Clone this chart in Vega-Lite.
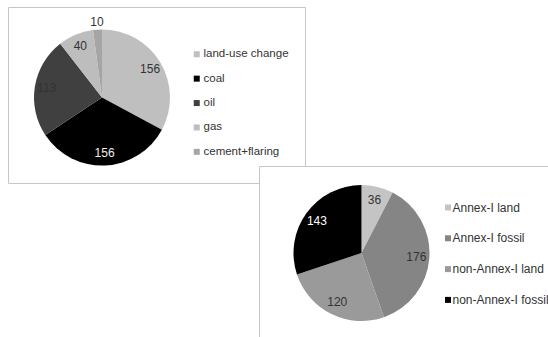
{
  "$schema": "https://vega.github.io/schema/vega-lite/v6.json",
  "padding": {"left": 7, "top": 6, "right": 0, "bottom": 0},
  "config": {
    "font": "Liberation Sans",
    "legend": {
      "orient": "none",
      "title": null,
      "symbolType": "square",
      "symbolSize": 36,
      "symbolStrokeWidth": 0,
      "labelColor": "#333333",
      "padding": 0
    }
  },
  "resolve": {"scale": {"color": "independent"}, "legend": {"color": "independent"}},
  "columns": 1,
  "align": "none",
  "spacing": {"row": -19, "column": 0},
  "concat": [
    {
      "width": 297,
      "height": 176,
      "view": {"stroke": "#c6c6c6", "fill": "white"},
      "data": {
        "values": [
          {"source": "land-use change", "value": 156, "k": 1},
          {"source": "coal", "value": 156, "k": 2},
          {"source": "oil", "value": 113, "k": 3},
          {"source": "gas", "value": 40, "k": 4},
          {"source": "cement+flaring", "value": 10, "k": 5}
        ]
      },
      "encoding": {
        "theta": {"field": "value", "type": "quantitative", "stack": true},
        "order": {"field": "k", "type": "quantitative"}
      },
      "layer": [
        {
          "mark": {"type": "arc", "x": 94, "y": 90.5, "outerRadius": 68},
          "encoding": {
            "color": {
              "field": "source",
              "type": "nominal",
              "scale": {
                "domain": ["land-use change", "coal", "oil", "gas", "cement+flaring"],
                "range": ["#bfbfbf", "#000000", "#404040", "#bdbdbd", "#a5a5a5"]
              },
              "legend": {"legendX": 183, "legendY": 41.5, "labelFontSize": 11.5, "rowPadding": 11.4, "labelOffset": 1}
            }
          }
        },
        {
          "mark": {"type": "text", "x": 94, "y": 90.5, "radius": 56, "fontSize": 12},
          "encoding": {
            "text": {"condition": {"test": "datum.value >= 20", "field": "value", "type": "quantitative"}, "value": ""},
            "color": {"condition": {"test": "datum.source === 'coal'", "value": "#eeeeee"}, "value": "#333333"}
          }
        },
        {
          "mark": {"type": "text", "x": 94, "y": 90.5, "radius": 76, "fontSize": 12},
          "encoding": {
            "text": {"condition": {"test": "datum.value < 20", "field": "value", "type": "quantitative"}, "value": ""},
            "color": {"value": "#333333"}
          }
        }
      ]
    },
    {
      "spacing": 0,
      "resolve": {"scale": {"color": "independent"}, "legend": {"color": "independent"}},
      "hconcat": [
        {
          "width": 250,
          "height": 1,
          "view": {"stroke": null, "fill": null},
          "data": {"values": []},
          "mark": "point",
          "encoding": {}
        },
        {
          "width": 291,
          "height": 171,
          "view": {"stroke": "#c6c6c6", "fill": "white"},
          "data": {
            "values": [
              {"source": "Annex-I land", "value": 36, "k": 1},
              {"source": "Annex-I fossil", "value": 176, "k": 2},
              {"source": "non-Annex-I land", "value": 120, "k": 3},
              {"source": "non-Annex-I fossil", "value": 143, "k": 4}
            ]
          },
          "encoding": {
            "theta": {"field": "value", "type": "quantitative", "stack": true},
            "order": {"field": "k", "type": "quantitative"}
          },
          "layer": [
            {
              "mark": {"type": "arc", "x": 102.5, "y": 87, "outerRadius": 68},
              "encoding": {
                "color": {
                  "field": "source",
                  "type": "nominal",
                  "scale": {
                    "domain": ["Annex-I land", "Annex-I fossil", "non-Annex-I land", "non-Annex-I fossil"],
                    "range": ["#c4c4c4", "#858585", "#9a9a9a", "#000000"]
                  },
                  "legend": {"legendX": 183, "legendY": 35.5, "labelFontSize": 12, "rowPadding": 18.8, "labelOffset": -1.5}
                }
              }
            },
            {
              "mark": {"type": "text", "x": 102.5, "y": 87, "radius": 55, "fontSize": 12},
              "encoding": {
                "text": {"field": "value", "type": "quantitative"},
                "color": {"condition": {"test": "datum.source === 'non-Annex-I fossil'", "value": "#ffffff"}, "value": "#333333"}
              }
            }
          ]
        }
      ]
    }
  ]
}
